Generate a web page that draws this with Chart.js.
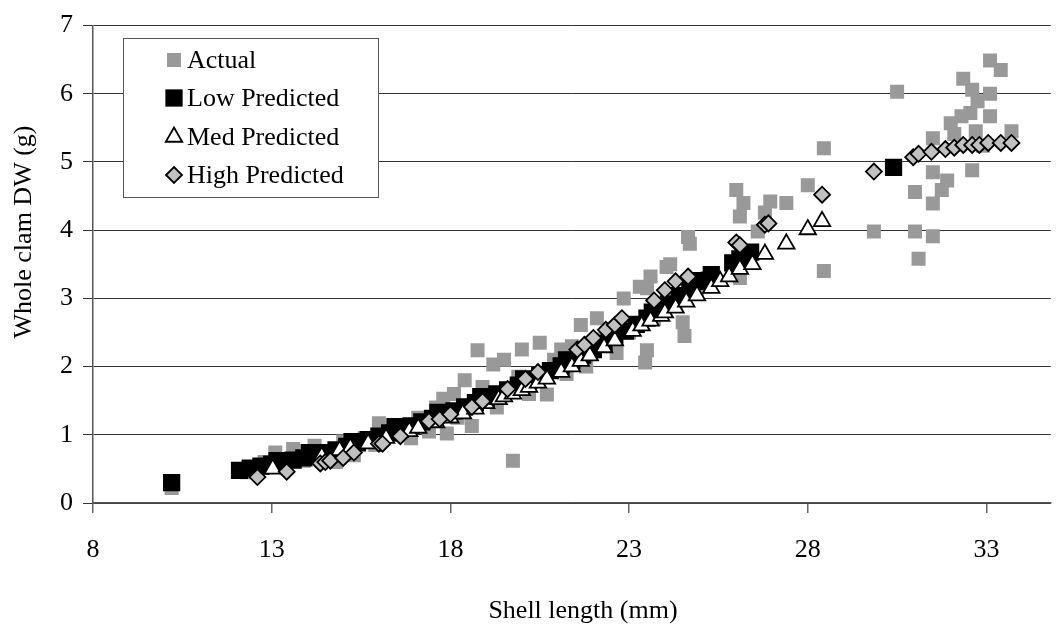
<!DOCTYPE html>
<html>
<head>
<meta charset="utf-8">
<script src="https://cdn.jsdelivr.net/npm/chart.js@4.4.1/dist/chart.umd.min.js"></script>
<style>
    html, body { margin: 0; padding: 0; background: #ffffff; }
</style>
</head>
<body>
<canvas id="clamCanvas" width="1063" height="629"></canvas>
<script>
// axis ticks
const xTicks = [8, 13, 18, 23, 28, 33];
const yTicks = [0, 1, 2, 3, 4, 5, 6, 7];
const seriesNames = ['Actual', 'Low Predicted', 'Med Predicted', 'High Predicted'];

// Actual (measured) shell length (mm) and whole clam DW (g)
const actualX = [10.2, 12.3, 12.8, 13.1, 13.6, 13.9, 14.2, 14.5, 14.8, 15.0, 15.3, 15.6, 15.9, 16.0, 16.3,
    16.6, 16.9, 17.1, 17.4, 17.6, 17.8, 17.9, 18.1, 18.2, 18.4, 18.6, 18.76, 18.9, 19.2, 19.3,
    19.5, 19.75, 19.9, 20.0, 20.2, 20.5, 20.7, 20.9, 21.1, 21.25, 21.4, 21.65, 21.8, 22.1, 22.3,
    22.65, 22.85, 23.0, 23.3, 23.45, 23.5, 23.5, 23.6, 23.7, 24.05, 24.15, 24.3, 24.5, 24.55, 24.65,
    24.7, 24.9, 25.2, 26.0, 26.1, 26.1, 26.2, 26.6, 26.8, 26.95, 27.4, 28.0, 28.45, 28.45, 29.85,
    30.5, 31.0, 31.0, 31.1, 31.5, 31.5, 31.75, 31.9, 31.5, 31.5, 32.0, 32.3, 32.1, 32.6, 32.7,
    32.55, 32.35, 32.6, 32.75, 33.1, 33.1, 33.1, 33.4, 32.9, 33.7];
const actualY = [0.22, 0.45, 0.6, 0.74, 0.79, 0.62, 0.84, 0.72, 0.6, 0.9, 0.7, 0.95, 0.85, 1.17, 1.0,
    1.1, 0.95, 1.25, 1.05, 1.4, 1.53, 1.02, 1.6, 1.25, 1.8, 1.13, 2.24, 1.7, 2.03, 1.4,
    2.1, 0.62, 1.85, 2.25, 1.6, 2.35, 1.59, 2.1, 2.25, 1.89, 2.3, 2.61, 2.0, 2.71, 2.4,
    2.2, 3.0, 2.5, 3.17, 2.06, 2.24, 3.15, 3.32, 2.7, 3.46, 3.5, 2.9, 2.65, 2.45, 3.9,
    3.8, 3.1, 3.3, 4.59, 3.3, 4.2, 4.4, 3.98, 4.26, 4.42, 4.4, 4.66, 3.4, 5.2, 3.98,
    6.03, 4.56, 3.98, 3.58, 3.91, 4.39, 4.59, 4.73, 4.85, 5.35, 5.57, 5.67, 5.41, 4.88, 5.45,
    5.72, 6.22, 6.06, 5.89, 6.0, 5.67, 6.49, 6.35, 5.24, 5.45];

// Low predicted
const lowX = [10.2, 12.1, 12.4, 12.7, 13.0, 13.15, 13.3, 13.6, 13.9, 14.05, 14.2, 14.5, 14.8, 15.1, 15.25,
    15.4, 15.7, 16.0, 16.3, 16.45, 16.6, 16.9, 17.2, 17.5, 17.65, 17.8, 18.1, 18.4, 18.7, 18.85,
    19.0, 19.3, 19.6, 19.9, 20.05, 20.2, 20.5, 20.8, 21.1, 21.25, 21.4, 21.7, 22.0, 22.3, 22.45,
    22.6, 22.9, 23.2, 23.5, 23.65, 23.8, 24.1, 24.4, 24.7, 24.85, 25.0, 25.3, 25.9, 26.1, 26.4,
    30.4];
const lowY = [0.3, 0.48, 0.51, 0.54, 0.57, 0.62, 0.6, 0.63, 0.66, 0.74, 0.7, 0.74, 0.78, 0.83, 0.9,
    0.88, 0.93, 0.98, 1.03, 1.12, 1.08, 1.13, 1.19, 1.24, 1.33, 1.3, 1.35, 1.41, 1.47, 1.56,
    1.53, 1.6, 1.66, 1.73, 1.82, 1.8, 1.87, 1.94, 2.01, 2.1, 2.09, 2.17, 2.25, 2.34, 2.43,
    2.43, 2.52, 2.62, 2.71, 2.8, 2.81, 2.92, 3.04, 3.15, 3.25, 3.26, 3.35, 3.52, 3.58, 3.68,
    4.92];

// Med predicted (points past 28.4 mm sit under the diamonds and can't be read)
const medX = [13.03, 14.4, 14.9, 15.2, 15.7, 16.2, 16.85, 17.1, 17.6, 18.0, 18.35, 18.7, 19.0, 19.35, 19.5,
    19.75, 20.0, 20.2, 20.45, 20.7, 21.1, 21.4, 21.65, 21.9, 22.3, 22.6, 23.1, 23.35, 23.6, 23.9,
    24.0, 24.3, 24.6, 24.9, 25.3, 25.55, 25.8, 26.1, 26.45, 26.8, 27.4, 28.0, 28.4];
const medY = [0.5, 0.68, 0.77, 0.81, 0.87, 0.95, 1.05, 1.1, 1.18, 1.25, 1.31, 1.38, 1.46, 1.52, 1.56,
    1.6, 1.65, 1.7, 1.76, 1.82, 1.92, 2.0, 2.08, 2.16, 2.28, 2.38, 2.52, 2.6, 2.67, 2.74,
    2.79, 2.86, 2.95, 3.04, 3.15, 3.25, 3.32, 3.43, 3.5, 3.65, 3.8, 4.01, 4.13];

// High predicted
const highX = [12.6, 13.42, 14.36, 14.5, 14.64, 15.0, 15.3, 16.0, 16.1, 16.6, 17.4, 17.7, 18.0, 18.6, 18.9,
    19.6, 20.1, 20.45, 21.55, 21.75, 22.0, 22.35, 22.6, 22.8, 23.7, 24.0, 24.3, 24.65, 26.0, 26.1,
    26.8, 26.9, 28.4, 29.85, 30.95, 31.1, 31.46, 31.85, 32.1, 32.35, 32.6, 32.8, 33.05, 33.4, 33.7];
const highY = [0.38, 0.46, 0.58, 0.6, 0.62, 0.66, 0.74, 0.87, 0.87, 0.98, 1.2, 1.23, 1.3, 1.41, 1.49,
    1.67, 1.82, 1.92, 2.25, 2.32, 2.42, 2.54, 2.61, 2.71, 2.97, 3.12, 3.25, 3.32, 3.82, 3.78,
    4.08, 4.1, 4.52, 4.86, 5.07, 5.12, 5.15, 5.19, 5.21, 5.25, 5.25, 5.25, 5.28, 5.28, 5.28];

const toPoints = (xs, ys) => xs.map((x, i) => ({x: x, y: ys[i]}));

const FONT = "'Liberation Serif', 'Times New Roman', serif";

// marker look, shared by the datasets and the legend box
const markers = [
    {style: 'rect', radius: 9.9, fill: '#999999', stroke: '#999999', border: 0},
    {style: 'rect', radius: 12.2, fill: '#000000', stroke: '#000000', border: 0},
    {style: 'triangle', radius: 9.5, fill: '#ffffff', stroke: '#000000', border: 1.8},
    {style: 'rectRot', radius: 8, fill: '#c0c0c0', stroke: '#000000', border: 1.8}
];

// draws one legend marker by hand
function drawMarker(ctx, m, x, y) {
    ctx.save();
    ctx.fillStyle = m.fill;
    ctx.strokeStyle = m.stroke;
    ctx.lineWidth = m.border;
    ctx.beginPath();
    if (m.style === 'rect') {
        const s = m.radius / Math.SQRT2;
        ctx.rect(x - s, y - s, 2 * s, 2 * s);
    } else if (m.style === 'triangle') {
        let a = 0;
        ctx.moveTo(x + Math.sin(a) * m.radius, y - Math.cos(a) * m.radius);
        for (let k = 0; k < 2; k++) {
            a += 2 * Math.PI / 3;
            ctx.lineTo(x + Math.sin(a) * m.radius, y - Math.cos(a) * m.radius);
        }
        ctx.closePath();
    } else {
        ctx.moveTo(x, y - m.radius);
        ctx.lineTo(x + m.radius, y);
        ctx.lineTo(x, y + m.radius);
        ctx.lineTo(x - m.radius, y);
        ctx.closePath();
    }
    ctx.fill();
    if (m.border > 0) ctx.stroke();
    ctx.restore();
}

// legend box inside the plot + the two axis titles
const extrasPlugin = {
    id: 'extras',
    afterDatasetsDraw(chart) {
        const ctx = chart.ctx;
        ctx.save();
        ctx.fillStyle = '#ffffff';
        ctx.fillRect(123, 38, 256, 160);
        ctx.strokeStyle = '#555555';
        ctx.lineWidth = 1;
        ctx.strokeRect(123.5, 38.5, 255, 159);
        const rows = [60, 98, 137, 175];
        ctx.font = '26px ' + FONT;
        ctx.textBaseline = 'middle';
        ctx.textAlign = 'left';
        seriesNames.forEach((name, i) => {
            drawMarker(ctx, markers[i], 174, rows[i]);
            ctx.fillStyle = '#000000';
            ctx.fillText(name, 187, rows[i] + 1);
        });
        ctx.restore();
    },
    afterDraw(chart) {
        const ctx = chart.ctx;
        ctx.save();
        ctx.font = '26px ' + FONT;
        ctx.fillStyle = '#000000';
        ctx.textAlign = 'center';
        ctx.textBaseline = 'middle';
        ctx.fillText('Shell length (mm)', 583, 611);
        ctx.translate(24, 232);
        ctx.rotate(-Math.PI / 2);
        ctx.fillText('Whole clam DW (g)', 0, 0);
        ctx.restore();
    }
};

document.addEventListener('DOMContentLoaded', function() {
    const ctx = document.getElementById('clamCanvas').getContext('2d');
    const datasets = [
        {label: seriesNames[0], data: toPoints(actualX, actualY), order: 4},
        {label: seriesNames[1], data: toPoints(lowX, lowY), order: 3},
        {label: seriesNames[2], data: toPoints(medX, medY), order: 2},
        {label: seriesNames[3], data: toPoints(highX, highY), order: 1}
    ].map((ds, i) => Object.assign(ds, {
        pointStyle: markers[i].style,
        pointRadius: markers[i].radius,
        pointHoverRadius: markers[i].radius,
        pointBackgroundColor: markers[i].fill,
        pointBorderColor: markers[i].stroke,
        pointBorderWidth: markers[i].border,
        showLine: false
    }));

    new Chart(ctx, {
        type: 'scatter',
        data: {datasets: datasets},
        options: {
            responsive: false,
            animation: false,
            devicePixelRatio: 1,
            layout: {padding: {top: 18, right: 0, left: 0, bottom: 0}},
            plugins: {
                legend: {display: false},
                tooltip: {enabled: false}
            },
            scales: {
                x: {
                    type: 'linear',
                    min: 8,
                    max: 34.8,
                    afterBuildTicks: (scale) => { scale.ticks = xTicks.map(v => ({value: v})); },
                    afterFit: (scale) => { scale.height = 126; },
                    grid: {drawOnChartArea: false, drawTicks: true, tickLength: 10, color: '#666666', lineWidth: 1.5},
                    border: {color: '#555555', width: 1.5},
                    ticks: {font: {family: FONT, size: 26}, color: '#000000', padding: 22, maxRotation: 0}
                },
                y: {
                    type: 'linear',
                    min: 0,
                    max: 7,
                    afterBuildTicks: (scale) => { scale.ticks = yTicks.map(v => ({value: v})); },
                    afterFit: (scale) => { scale.width = 93; },
                    grid: {drawTicks: true, tickLength: 10, color: '#333333', lineWidth: 1},
                    border: {color: '#555555', width: 1.5},
                    ticks: {font: {family: FONT, size: 26}, color: '#000000', padding: 10}
                }
            }
        },
        plugins: [extrasPlugin]
    });
});
</script>
</body>
</html>
